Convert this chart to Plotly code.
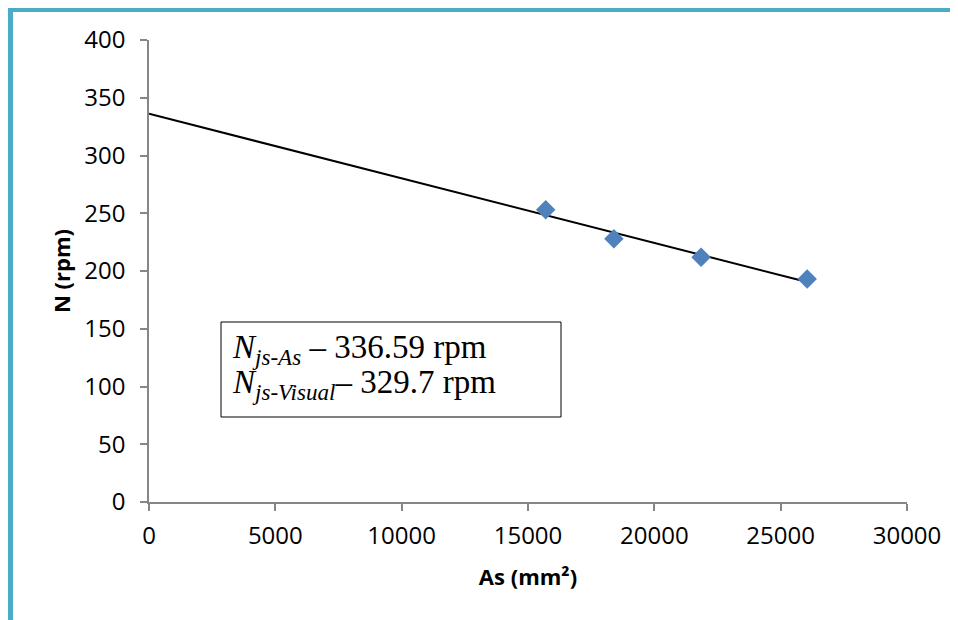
import numpy as np
import plotly.graph_objects as go

# Data
area_mm2 = [15700, 18400, 21850, 26050]
speed_rpm = [253, 228, 212, 193]
x_ticks = [0, 5000, 10000, 15000, 20000, 25000, 30000]
y_ticks = [0, 50, 100, 150, 200, 250, 300, 350, 400]
note_lines = [
    "<i>N</i><sub><i>js-As</i></sub> – 336.59 rpm",
    "<i>N</i><sub><i>js-Visual</i></sub>– 329.7 rpm",
]

# Linear trendline (backward forecast to 0)
slope, intercept = np.polyfit(area_mm2, speed_rpm, 1)
trend_x = [0, max(area_mm2)]
trend_y = [intercept + slope * v for v in trend_x]

# The page body adds an 8px offset; work in screen pixels and convert.
OFF = 8
W, H = 950, 612
L, T = 149 - OFF, 40 - OFF
pw, ph = 758, 462
R, B = W - L - pw, H - T - ph


def px(s):
    return (s - OFF - L) / pw


def py(s):
    return (T + ph - (s - OFF)) / ph


fig = go.Figure()
fig.add_trace(go.Scatter(x=trend_x, y=trend_y, mode="lines",
                         line=dict(color="black", width=2), showlegend=False,
                         hoverinfo="skip"))
fig.add_trace(go.Scatter(x=area_mm2, y=speed_rpm, mode="markers",
                         marker=dict(symbol="diamond", size=15, color="#4F81BD",
                                     line=dict(width=0)),
                         showlegend=False))

tick_font = dict(family="Open Sans, Liberation Sans, sans-serif", size=24, color="black")
title_font = dict(family="Open Sans, Liberation Sans, sans-serif", size=22, color="black")

fig.update_xaxes(range=[0, 30000], tickvals=x_ticks, ticktext=[str(v) for v in x_ticks],
                 showgrid=False, zeroline=False, showline=True, linecolor="#868686",
                 linewidth=1.5, ticks="outside", ticklen=7, tickcolor="#868686",
                 tickwidth=1.5, tickfont=tick_font, ticklabelstandoff=4,
                 title=dict(text="<b>As (mm²)</b>", font=title_font, standoff=20))
fig.update_yaxes(range=[0, 400], tickvals=y_ticks, ticktext=[str(v) for v in y_ticks],
                 showgrid=False, zeroline=False, showline=True, linecolor="#868686",
                 linewidth=1.5, ticks="outside", ticklen=7, tickcolor="#868686",
                 tickwidth=1.5, tickfont=tick_font, ticklabelstandoff=10,
                 title=dict(text="<b>N (rpm)</b>", font=title_font, standoff=8))

# Frame (teal L-shaped border)
border = "#4BACC6"
fig.add_shape(type="path", xref="paper", yref="paper",
              path=f"M {px(970)},{py(9.5)} L {px(10.5)},{py(9.5)} L {px(10.5)},{py(640)}",
              line=dict(color=border, width=5), layer="above")

# Annotation box
fig.add_shape(type="rect", xref="paper", yref="paper",
              x0=px(221), x1=px(561), y0=py(417), y1=py(322),
              line=dict(color="black", width=1), fillcolor="white", layer="above")
serif = dict(family="Liberation Serif, Times New Roman, serif", size=33, color="black")
for i, line in enumerate(note_lines):
    fig.add_annotation(xref="paper", yref="paper", x=px(230), y=py(349 + 35 * i),
                       xanchor="left", yanchor="middle", text=line, showarrow=False,
                       font=serif, align="left")

fig.update_layout(width=W, height=H, margin=dict(l=L, r=R, t=T, b=B),
                  plot_bgcolor="white", paper_bgcolor="white")

fig.write_html("out.html")
